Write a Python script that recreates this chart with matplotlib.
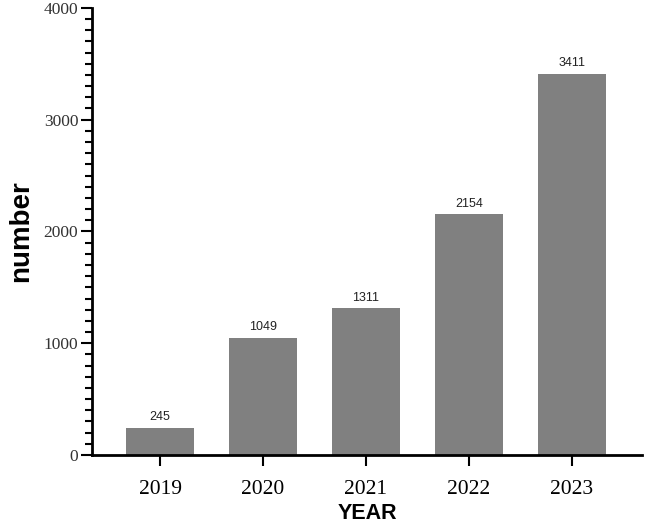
import matplotlib.pyplot as plt
from matplotlib.ticker import MultipleLocator

# Data
years = ["2019", "2020", "2021", "2022", "2023"]
counts = [245, 1049, 1311, 2154, 3411]

fig = plt.figure(figsize=(6.45, 5.26), dpi=100)
ax = fig.add_axes([0.143, 0.135, 0.852, 0.85])

x = range(len(years))
bars = ax.bar(x, counts, width=0.66, color="#808080", zorder=2)

# Value labels above the bars
for xi, c in zip(x, counts):
    ax.text(xi, c + 40, str(c), ha="center", va="bottom", fontsize=9,
            family="Liberation Sans", color="#222222")

ax.set_xlim(-0.66, 4.68)
ax.set_ylim(0, 4000)
ax.set_xticks(list(x))
ax.set_xticklabels(years, family="Liberation Serif", fontsize=15.5)
ax.yaxis.set_major_locator(MultipleLocator(1000))
ax.yaxis.set_minor_locator(MultipleLocator(100))
for lab in ax.get_yticklabels():
    lab.set_family("Liberation Serif")
    lab.set_fontsize(12.5)
    lab.set_color("#333333")

ax.spines["top"].set_visible(False)
ax.spines["right"].set_visible(False)
ax.spines["left"].set_linewidth(2)
ax.spines["bottom"].set_linewidth(2)
ax.tick_params(axis="y", which="major", length=8, width=1.5, pad=2)
ax.tick_params(axis="y", which="minor", length=5, width=1.5)
ax.tick_params(axis="x", which="major", length=8, width=1.5, pad=10)

ax.set_xlabel("YEAR", fontsize=15.5, fontweight="bold", family="Liberation Sans", labelpad=3)
ax.set_ylabel("number", fontsize=20, fontweight="bold", family="Liberation Sans", labelpad=7)

fig.savefig("out.png", dpi=100)
